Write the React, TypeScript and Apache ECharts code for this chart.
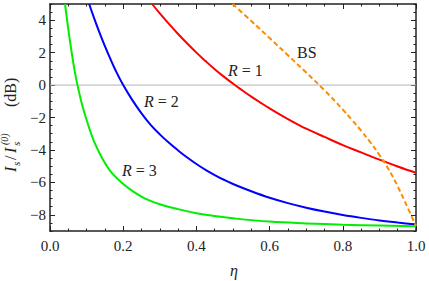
import React, { useEffect, useRef } from "react";
import * as echarts from "echarts";

// ---- data ----
const etaR1 = [0.279, 0.3, 0.325, 0.35, 0.375, 0.4, 0.425, 0.45, 0.475, 0.505, 0.525, 0.55, 0.575, 0.6, 0.625, 0.65, 0.683, 0.7, 0.75, 0.8, 0.85, 0.9, 0.95, 1.0];
const dbR1 = [5, 4.42, 3.77, 3.15, 2.56, 2.0, 1.48, 0.98, 0.52, 0, -0.32, -0.71, -1.08, -1.44, -1.78, -2.1, -2.5, -2.69, -3.2, -3.7, -4.15, -4.6, -5.02, -5.41];

const etaR2 = [0.107, 0.12, 0.135, 0.15, 0.165, 0.18, 0.2, 0.225, 0.25, 0.275, 0.3, 0.325, 0.35, 0.375, 0.4, 0.425, 0.45, 0.475, 0.5, 0.55, 0.6, 0.65, 0.7, 0.75, 0.8, 0.85, 0.9, 0.95, 1.0];
const dbR2 = [5, 4.16, 3.25, 2.4, 1.61, 0.87, 0, -0.93, -1.74, -2.45, -3.04, -3.56, -4.03, -4.47, -4.87, -5.23, -5.55, -5.84, -6.1, -6.55, -6.95, -7.28, -7.56, -7.8, -8.01, -8.19, -8.35, -8.48, -8.6];

const etaR3 = [0.041, 0.05, 0.06, 0.07, 0.08, 0.09, 0.1, 0.11, 0.12, 0.13, 0.14, 0.15, 0.17, 0.2, 0.23, 0.26, 0.3, 0.35, 0.4, 0.45, 0.5, 0.6, 0.7, 0.8, 0.9, 1.0];
const dbR3 = [5, 3.45, 1.9, 0.55, -0.5, -1.4, -2.15, -2.85, -3.45, -3.95, -4.4, -4.8, -5.45, -6.1, -6.6, -7.0, -7.35, -7.65, -7.9, -8.08, -8.22, -8.42, -8.53, -8.61, -8.66, -8.7];

const etaBS = [0.499, 0.55, 0.6, 0.65, 0.7, 0.75, 0.8, 0.825, 0.85, 0.875, 0.9, 0.925, 0.95, 0.975, 1.0];
const dbBS = [5, 3.95, 2.9, 1.84, 0.77, -0.32, -1.51, -2.15, -2.81, -3.52, -4.31, -5.19, -6.25, -7.45, -8.7];

const yMajorTicks = [-8, -6, -4, -2, 0, 2, 4];
const yMin = -9;
const yMax = 5;

const FONT = "Liberation Serif";
const INK = "#222";

const zip = (xs: number[], ys: number[]) => xs.map((x, i) => [x, ys[i]]);

const yMinorTicks: number[] = [];
for (let v = yMin; v <= yMax + 1e-9; v += 0.5) {
  if (!yMajorTicks.some((m) => Math.abs(m - v) < 1e-9)) yMinorTicks.push(v);
}

const fmtY = (v: number) => (v < 0 ? "\u2212" + String(-v) : String(v));
const GRID = { left: 50, right: 13, top: 4, bottom: 50, containLabel: false };

export default function App() {
  const ref = useRef<HTMLDivElement>(null);
  const refText = useRef<HTMLDivElement>(null);
  useEffect(() => {
    if (!ref.current || !refText.current) return;
    const chart = echarts.init(ref.current, undefined, { renderer: "svg" });
    const textChart = echarts.init(refText.current, undefined, { renderer: "svg" });

    const xBase = (pos: "bottom" | "top") => ({
      type: "value" as const,
      position: pos,
      min: 0,
      max: 1,
      interval: 0.2,
      axisLine: { show: true, onZero: false, lineStyle: { color: INK, width: 1.5 } },
      axisTick: { show: true, inside: true, length: 5, lineStyle: { color: INK, width: 1 } },
      minorTick: { show: true, splitNumber: 4, length: 2.5, lineStyle: { color: INK, width: 1 } },
      axisLabel: { show: false },
      splitLine: { show: false },
    });

    const yBase = (pos: "left" | "right", major: boolean) => ({
      type: "value" as const,
      position: pos,
      min: yMin,
      max: yMax,
      axisLine: { show: major, onZero: false, lineStyle: { color: INK, width: 1.5 } },
      axisTick: {
        show: true,
        inside: true,
        length: major ? 5 : 2.5,
        customValues: major ? yMajorTicks : yMinorTicks,
        lineStyle: { color: INK, width: 1 },
      },
      axisLabel: { show: false },
      splitLine: { show: false },
    });

    const lineSeries = (name: string, data: number[][], color: string, dashed = false) => ({
      name,
      type: "line" as const,
      data,
      showSymbol: false,
      smooth: 0.4,
      clip: true,
      lineStyle: { color, width: 2, type: dashed ? [5, 3] : "solid" },
      z: 3,
    });

    chart.setOption({
      animation: false,
      grid: GRID,
      xAxis: [xBase("bottom"), xBase("top")],
      yAxis: [yBase("left", true), yBase("left", false), yBase("right", true), yBase("right", false)],
      series: [
        {
          name: "zero",
          type: "line",
          data: [
            [0, 0],
            [1, 0],
          ],
          showSymbol: false,
          lineStyle: { color: "#b4b4b4", width: 1 },
          z: 1,
        },
        lineSeries("R=1", zip(etaR1, dbR1), "#ff0000"),
        lineSeries("R=2", zip(etaR2, dbR2), "#0000ff"),
        lineSeries("R=3", zip(etaR3, dbR3), "#00ee00"),
        lineSeries("BS", zip(etaBS, dbBS), "#ff8c00", true),
      ],
    });

    const txt = (text: string, x: number, y: number, size: number, italic: boolean) => ({
      type: "text",
      x,
      y,
      style: {
        text,
        fontFamily: FONT,
        fontSize: size,
        fontStyle: italic ? "italic" : "normal",
        fill: INK,
        align: "left",
        verticalAlign: "middle",
      },
    });

    const rLabel = (text: string, left: number, top: number) => ({
      type: "text",
      left,
      top,
      style: {
        text,
        fontFamily: FONT,
        fontSize: 16,
        fill: INK,
        rich: { i: { fontStyle: "italic", fontFamily: FONT, fontSize: 16, fill: INK } },
      },
    });

    textChart.setOption({
      animation: false,
      textStyle: { fontFamily: FONT },
      grid: GRID,
      xAxis: {
        type: "value",
        min: 0,
        max: 1,
        interval: 0.2,
        axisLine: { show: false },
        axisTick: { show: false },
        splitLine: { show: false },
        axisLabel: {
          margin: 7,
          fontFamily: FONT,
          fontSize: 15,
          color: INK,
          formatter: (v: number) => v.toFixed(1),
        },
      },
      yAxis: {
        type: "value",
        min: yMin,
        max: yMax,
        axisLine: { show: false },
        axisTick: { show: false },
        splitLine: { show: false },
        axisLabel: {
          margin: 4,
          fontFamily: FONT,
          fontSize: 15,
          color: INK,
          customValues: yMajorTicks,
          formatter: (v: number) => fmtY(v),
        },
      },
      series: [],
      graphic: [
        rLabel("{i|R} = 1", 228, 62),
        rLabel("{i|R} = 2", 144, 93),
        rLabel("{i|R} = 3", 122, 162),
        {
          type: "text",
          left: 297,
          top: 44,
          style: { text: "BS", fontFamily: FONT, fontSize: 16, fill: INK },
        },
        {
          type: "text",
          x: 234,
          y: 270,
          style: {
            text: "\u03b7",
            fontFamily: FONT,
            fontSize: 16,
            fontStyle: "italic",
            fill: INK,
            align: "center",
            verticalAlign: "middle",
          },
        },
        {
          type: "group",
          x: 0,
          y: 172,
          rotation: Math.PI / 2,
          children: [
            txt("I", 0, 10, 16, true),
            txt("s", 6, 15.5, 11, true),
            txt("/", 12, 10, 16, false),
            txt("I", 19, 10, 16, true),
            txt("s", 26, 15.5, 11, true),
            txt("(0)", 27, 4.5, 10, true),
            txt("(dB)", 65, 10, 16, false),
          ],
        },
      ],
    });
    return () => {
      chart.dispose();
      textChart.dispose();
    };
  }, []);
  return (
    <div style={{ position: "absolute", left: 0, top: 0, width: 429, height: 281 }}>
      <div ref={ref} style={{ width: 429, height: 281, position: "absolute", left: 0, top: 0 }} />
      <div
        ref={refText}
        style={{ width: 429, height: 281, position: "absolute", left: 0, top: 0, pointerEvents: "none" }}
      />
    </div>
  );
}
